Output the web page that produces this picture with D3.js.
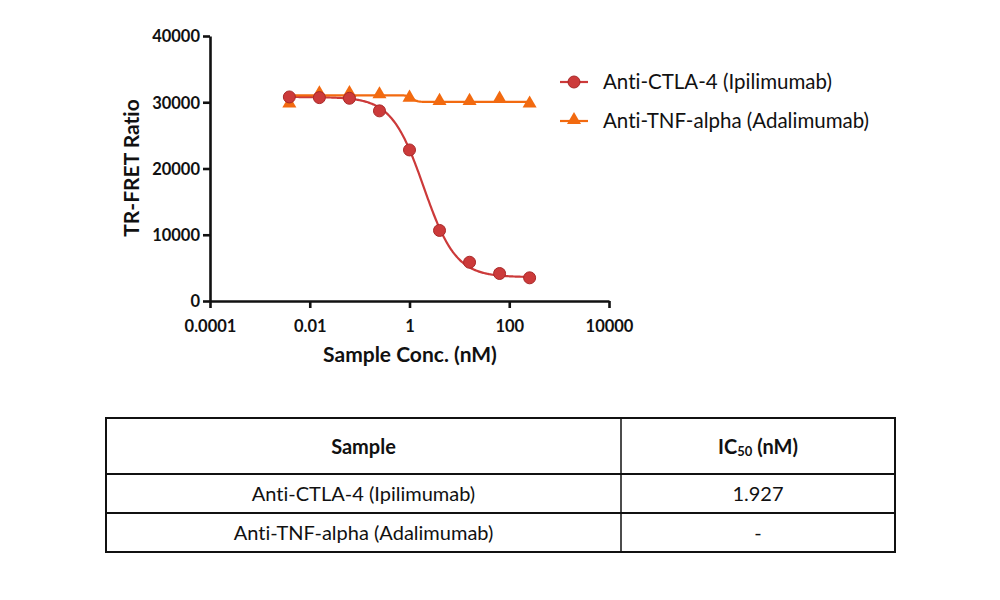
<!DOCTYPE html>
<html>
<head>
<meta charset="utf-8">
<script src="https://cdn.jsdelivr.net/npm/d3@7"></script>
<style>
  body { margin: 0; background: #fff; }
  svg text { font-family: Lato, "Open Sans", sans-serif; fill: #111; font-variant-ligatures: none; }
</style>
</head>
<body>
<svg id="chart" width="1000" height="600"></svg>
<script>
// concentrations (nM), 1:4 dilution series
const conc = [0.0039, 0.0156, 0.0625, 0.25, 1, 4, 16, 64, 256];
const ctla4Values = [30800, 30700, 30600, 28700, 22800, 10650, 5850, 4150, 3500];
const tnfValues = [29650, 31200, 31250, 31050, 30550, 30050, 30050, 30400, 29650];

// 4PL fit parameters
const ctla4Fit = { top: 30800, bottom: 3600, ic50: 1.927, hill: 1.35 };
const tnfFit = { top: 31050, bottom: 30050, ic50: 1.15, hill: 9 };

const seriesNames = ["Anti-CTLA-4 (Ipilimumab)", "Anti-TNF-alpha (Adalimumab)"];
const seriesColors = ["#cc3a3a", "#f26a10"];
const xTicks = [0.0001, 0.01, 1, 100, 10000];
const yTicks = [0, 10000, 20000, 30000, 40000];

const tableHeader = ["Sample", "IC50 (nM)"];
const tableRows = [["Anti-CTLA-4 (Ipilimumab)", "1.927"], ["Anti-TNF-alpha (Adalimumab)", "-"]];

const svg = d3.select("#chart");

const x = d3.scaleLog().domain([0.0001, 10000]).range([210, 609]);
const y = d3.scaleLinear().domain([0, 40000]).range([301, 36]);

// axes
const xAxis = d3.axisBottom(x).tickValues(xTicks).tickSize(7).tickSizeOuter(0)
    .tickFormat(d => String(d));
const yAxis = d3.axisLeft(y).tickValues(yTicks).tickSize(7).tickSizeOuter(0)
    .tickFormat(d => String(d));

const gx = svg.append("g").attr("transform", "translate(0,301)").call(xAxis);
const gy = svg.append("g").attr("transform", "translate(210,0)").call(yAxis);

[gx, gy].forEach(g => {
    g.select(".domain").attr("stroke", "#111").attr("stroke-width", 2.6);
    g.selectAll(".tick line").attr("stroke", "#111").attr("stroke-width", 2.6);
    g.selectAll(".tick text").attr("font-family", "Lato, sans-serif")
        .attr("font-size", 16.5).attr("font-weight", "bold").attr("fill", "#111");
});
gx.selectAll(".tick text").attr("dy", "1.3em");
gy.selectAll(".tick text").attr("dx", "0em").attr("dy", "0.36em");

svg.append("text")
    .attr("x", 410).attr("y", 362)
    .attr("text-anchor", "middle")
    .attr("font-size", 21).attr("font-weight", "bold")
    .text("Sample Conc. (nM)");

svg.append("text")
    .attr("transform", "translate(139,168) rotate(-90)")
    .attr("text-anchor", "middle")
    .attr("font-size", 21).attr("font-weight", "bold")
    .text("TR-FRET Ratio");

// fitted curves
function fourPL(p) {
    return c => p.bottom + (p.top - p.bottom) / (1 + Math.pow(c / p.ic50, p.hill));
}
const lo = Math.log10(conc[0]), hi = Math.log10(conc[conc.length - 1]);
const fitX = d3.range(0, 301).map(i => Math.pow(10, lo + i * (hi - lo) / 300));
const line = d3.line().x(d => x(d[0])).y(d => y(d[1]));

[ctla4Fit, tnfFit].forEach((p, i) => {
    const f = fourPL(p);
    svg.append("path")
        .attr("d", line(fitX.map(c => [c, f(c)])))
        .attr("fill", "none")
        .attr("stroke", seriesColors[i])
        .attr("stroke-width", 2.2);
});

// markers
const tri = d3.symbol().type(d3.symbolTriangle).size(85);

svg.append("g").selectAll("path")
    .data(tnfValues.map((v, i) => [conc[i], v]))
    .join("path")
    .attr("d", tri)
    .attr("transform", d => `translate(${x(d[0])},${y(d[1]) - 1})`)
    .attr("fill", seriesColors[1]);

svg.append("g").selectAll("circle")
    .data(ctla4Values.map((v, i) => [conc[i], v]))
    .join("circle")
    .attr("cx", d => x(d[0]))
    .attr("cy", d => y(d[1]))
    .attr("r", 6)
    .attr("fill", seriesColors[0])
    .attr("stroke", "#a82828")
    .attr("stroke-width", 1);

// legend
const legend = svg.append("g");
seriesNames.forEach((name, i) => {
    const ly = 82 + i * 39;
    legend.append("line")
        .attr("x1", 560).attr("x2", 588).attr("y1", ly).attr("y2", ly)
        .attr("stroke", seriesColors[i]).attr("stroke-width", 2.2);
    if (i === 0) {
        legend.append("circle").attr("cx", 574).attr("cy", ly).attr("r", 6)
            .attr("fill", seriesColors[0]).attr("stroke", "#a82828");
    } else {
        legend.append("path").attr("d", tri)
            .attr("transform", `translate(574,${ly - 1})`)
            .attr("fill", seriesColors[1]);
    }
    legend.append("text")
        .attr("x", 603).attr("y", ly + 7)
        .attr("font-size", 20.5)
        .text(name);
});

// table
const tLeft = 106, tRight = 895, tDiv = 621;
const rowEdges = [418, 474, 513, 552];

const table = svg.append("g");
table.append("rect")
    .attr("x", tLeft).attr("y", rowEdges[0])
    .attr("width", tRight - tLeft).attr("height", rowEdges[3] - rowEdges[0])
    .attr("fill", "none").attr("stroke", "#111").attr("stroke-width", 2);
rowEdges.slice(1, 3).forEach(ry => {
    table.append("line").attr("x1", tLeft).attr("x2", tRight)
        .attr("y1", ry).attr("y2", ry)
        .attr("stroke", "#111").attr("stroke-width", 2);
});
table.append("line").attr("x1", tDiv).attr("x2", tDiv)
    .attr("y1", rowEdges[0]).attr("y2", rowEdges[3])
    .attr("stroke", "#111").attr("stroke-width", 1.5);

const colCenters = [(tLeft + tDiv) / 2, (tDiv + tRight) / 2];

// header
table.append("text")
    .attr("x", colCenters[0]).attr("y", 454)
    .attr("text-anchor", "middle").attr("font-size", 20).attr("font-weight", "bold")
    .text(tableHeader[0]);
const ic = table.append("text")
    .attr("x", colCenters[1]).attr("y", 454)
    .attr("text-anchor", "middle").attr("font-size", 20).attr("font-weight", "bold");
ic.append("tspan").text("IC");
ic.append("tspan").attr("font-size", 13).attr("dy", 2).text("50");
ic.append("tspan").attr("dy", -2).text(" (nM)");

tableRows.forEach((row, r) => {
    const ty = (rowEdges[r + 1] + rowEdges[r + 2]) / 2 + 7;
    row.forEach((cell, c) => {
        table.append("text")
            .attr("x", colCenters[c]).attr("y", ty)
            .attr("text-anchor", "middle").attr("font-size", 20)
            .text(cell);
    });
});
</script>
</body>
</html>
